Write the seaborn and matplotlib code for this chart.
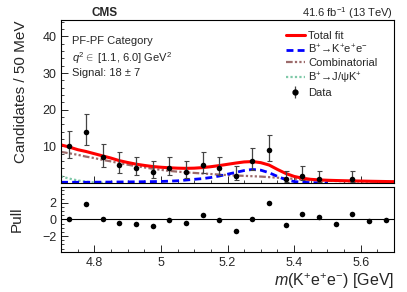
import matplotlib
matplotlib.use("Agg")
import matplotlib.pyplot as plt
import matplotlib.ticker as mticker
from matplotlib.lines import Line2D
import seaborn as sns
import numpy as np
import pandas as pd

# binned data (50 MeV bins)
bin_centers = [4.725, 4.775, 4.825, 4.875, 4.925, 4.975, 5.025, 5.075, 5.125, 5.175,
               5.225, 5.275, 5.325, 5.375, 5.425, 5.475, 5.525, 5.575, 5.625, 5.675]
counts = [10, 14, 7, 5, 4, 3, 4, 3, 5, 4, 2, 6, 9, 1, 2, 1, 0, 1, 0, 0]
err_lo = [3.11, 3.70, 2.58, 2.16, 1.91, 1.63, 1.91, 1.63, 2.16, 1.91,
          1.29, 2.38, 2.94, 0.83, 1.29, 0.83, 0, 0.83, 0, 0]
err_hi = [4.27, 4.83, 3.77, 3.38, 3.16, 2.92, 3.16, 2.92, 3.38, 3.16,
          2.64, 3.58, 4.11, 2.30, 2.64, 2.30, 0, 2.30, 0, 0]
pulls = [0.0, 1.8, 0.05, -0.4, -0.5, -0.75, -0.1, -0.45, 0.55, -0.05,
         -1.43, 0.1, 1.98, -0.65, 0.7, 0.3, -0.5, 0.6, -0.2, -0.1]

# fit curves
curve_mass = [4.700, 4.725, 4.750, 4.775, 4.800, 4.825, 4.850, 4.875, 4.900, 4.925,
              4.950, 4.975, 5.000, 5.025, 5.050, 5.075, 5.100, 5.125, 5.150, 5.175,
              5.200, 5.225, 5.250, 5.275, 5.300, 5.325, 5.350, 5.375, 5.400, 5.425,
              5.450, 5.475, 5.500, 5.525, 5.550, 5.575, 5.600, 5.625, 5.650, 5.675, 5.700]
total_fit = [10.4, 9.8, 9.1, 8.6, 8.0, 7.4, 6.8, 6.1, 5.6, 5.15,
             4.8, 4.5, 4.3, 4.15, 4.05, 4.0, 4.05, 4.2, 4.45, 4.75,
             5.1, 5.45, 5.75, 5.85, 5.55, 4.9, 3.7, 2.6, 1.8, 1.3,
             1.0, 0.85, 0.75, 0.68, 0.62, 0.57, 0.53, 0.48, 0.44, 0.40, 0.36]
combinatorial = [8.5, 8.1, 7.7, 7.2, 6.8, 6.3, 5.9, 5.4, 5.0, 4.6,
                 4.25, 3.9, 3.6, 3.3, 3.1, 2.9, 2.75, 2.6, 2.45, 2.3,
                 2.15, 2.05, 1.95, 1.85, 1.75, 1.6, 1.45, 1.3, 1.15, 0.95,
                 0.8, 0.7, 0.6, 0.55, 0.5, 0.45, 0.42, 0.38, 0.35, 0.32, 0.30]
signal_kee = [0.2, 0.2, 0.2, 0.2, 0.22, 0.24, 0.26, 0.28, 0.3, 0.32,
              0.35, 0.38, 0.42, 0.5, 0.6, 0.8, 1.0, 1.2, 1.5, 1.9,
              2.4, 2.9, 3.4, 3.7, 3.5, 2.8, 1.8, 0.9, 0.4, 0.2,
              0.1, 0.05, 0.0]
jpsik = [1.8, 1.2, 0.7, 0.35, 0.15, 0.05, 0.0]

sns.set_theme(style="ticks")
plt.rcParams["font.family"] = ["Liberation Sans", "DejaVu Sans"]
plt.rcParams["mathtext.fontset"] = "custom"
plt.rcParams["mathtext.rm"] = "Liberation Sans"
plt.rcParams["mathtext.it"] = "Liberation Sans:italic"
plt.rcParams["mathtext.bf"] = "Liberation Sans:bold"

fig = plt.figure(figsize=(4.07, 2.92), dpi=100)
ax = fig.add_axes([0.150, 0.3733, 0.818, 0.5582])
axp = fig.add_axes([0.150, 0.137, 0.818, 0.2226])

data = pd.DataFrame({"mass": bin_centers, "n": counts, "lo": err_lo, "hi": err_hi, "pull": pulls})
shown = data[data["n"] > 0]

comb_style = (0, (3, 1, 1, 1, 1, 1, 1, 1))
sns.lineplot(x=curve_mass, y=combinatorial, ax=ax, color="#9c6b6b", lw=1.6, linestyle=comb_style)
sns.lineplot(x=curve_mass[:len(jpsik)], y=jpsik, ax=ax, color="#7fc9a8", lw=1.6,
             linestyle=(0, (1, 1)))
sns.lineplot(x=curve_mass[:len(signal_kee)], y=signal_kee, ax=ax, color="#0000ff", lw=2.0,
             linestyle=(0, (2.5, 1.5)))
sns.lineplot(x=curve_mass, y=total_fit, ax=ax, color="#ff0000", lw=2.2)

ax.errorbar(shown["mass"], shown["n"], yerr=[shown["lo"], shown["hi"]], fmt="none",
            ecolor="#444444", elinewidth=0.9, capsize=1.8, capthick=0.8)
sns.scatterplot(data=shown, x="mass", y="n", ax=ax, color="black", s=16,
                edgecolor="black", linewidth=0, zorder=5)

ax.set_xlim(4.7, 5.7)
ax.set_ylim(0, 44.5)
ax.set_xlabel("")
ax.set_ylabel("Candidates / 50 MeV", fontsize=11, loc="top")
ax.yaxis.set_label_coords(-0.1, 1.0)
ax.xaxis.set_major_locator(mticker.MultipleLocator(0.2))
ax.xaxis.set_minor_locator(mticker.MultipleLocator(0.05))
ax.yaxis.set_major_locator(mticker.FixedLocator([10, 20, 30, 40]))
ax.yaxis.set_minor_locator(mticker.MultipleLocator(2))
ax.tick_params(axis="x", labelbottom=False)
ax.tick_params(which="both", direction="in", labelsize=9)
ax.tick_params(which="major", length=5, width=0.7)
ax.tick_params(which="minor", length=2.5, width=0.6)

ax.text(0.033, 0.87, "PF-PF Category", transform=ax.transAxes, fontsize=8, va="center")
ax.text(0.033, 0.767, r"$q^{2} \in$ [1.1, 6.0] GeV$^{2}$", transform=ax.transAxes,
        fontsize=8, va="center")
ax.text(0.033, 0.675, "Signal: 18 \u00b1 7", transform=ax.transAxes, fontsize=8, va="center")
fig.text(105 / 407, 1 - 13 / 292, "CMS", fontsize=8.5, fontweight="bold", ha="center", va="center")
fig.text(393 / 407, 1 - 13 / 292, r"41.6 fb$^{-1}$ (13 TeV)", fontsize=8, ha="right", va="center")

data_handle = (Line2D([], [], color="#444444", marker="|", markersize=8, lw=0, markeredgewidth=0.9),
               Line2D([], [], color="black", marker="o", markersize=3.5, lw=0))
handles = [
    Line2D([], [], color="#ff0000", lw=2.2),
    Line2D([], [], color="#0000ff", lw=2.0, linestyle=(0, (2.5, 1.5))),
    Line2D([], [], color="#9c6b6b", lw=1.6, linestyle=comb_style),
    Line2D([], [], color="#7fc9a8", lw=1.6, linestyle=(0, (1, 1))),
    data_handle,
]
labels = ["Total fit", "B$^{+}$\u2192K$^{+}$e$^{+}$e$^{-}$", "Combinatorial",
          "B$^{+}$\u2192J/\u03c8K$^{+}$", "Data"]
ax.legend(handles, labels, loc="upper left", bbox_to_anchor=(0.675, 0.935), frameon=False,
          fontsize=8, handlelength=1.7, handletextpad=0.3, labelspacing=0.2, borderpad=0,
          borderaxespad=0)

# pull panel
sns.scatterplot(data=data, x="mass", y="pull", ax=axp, color="black", s=16,
                edgecolor="black", linewidth=0, zorder=5)
axp.axhline(0, color="black", lw=0.8)
axp.set_xlim(4.7, 5.7)
axp.set_ylim(-3.9, 3.9)
axp.xaxis.set_major_locator(mticker.MultipleLocator(0.2))
axp.xaxis.set_minor_locator(mticker.MultipleLocator(0.05))
axp.xaxis.set_major_formatter(mticker.FuncFormatter(lambda v, p: f"{v:g}"))
axp.yaxis.set_major_locator(mticker.FixedLocator([-2, 0, 2]))
axp.yaxis.set_minor_locator(mticker.MultipleLocator(0.5))
axp.tick_params(which="both", direction="in", labelsize=9)
axp.tick_params(which="major", length=5, width=0.7)
axp.tick_params(which="minor", length=2.5, width=0.6)
axp.set_ylabel("Pull", fontsize=11)
axp.yaxis.set_label_coords(-0.112, 0.5)
axp.set_xlabel(r"$m$(K$^{+}$e$^{+}$e$^{-}$) [GeV]", fontsize=11.5, loc="right", labelpad=2)

for a in (ax, axp):
    for s in a.spines.values():
        s.set_linewidth(0.8)
        s.set_color("black")

fig.savefig("out.png", dpi=100)
